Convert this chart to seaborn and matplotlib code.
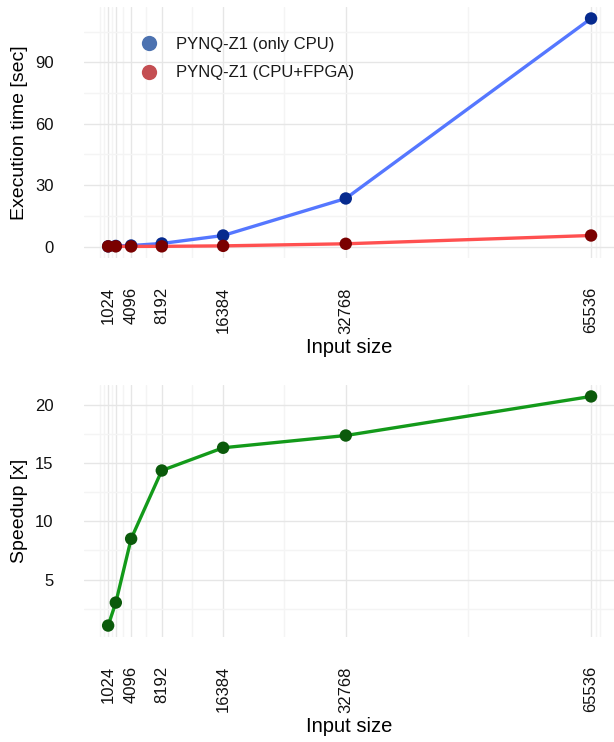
import numpy as np
import pandas as pd
import matplotlib
matplotlib.use("Agg")
import matplotlib.pyplot as plt
from matplotlib.lines import Line2D
import seaborn as sns

# ---- data ----
input_size = [1024, 2048, 4096, 8192, 16384, 32768, 65536]
cpu_time = [0.1, 0.3, 0.5, 1.5, 5.4, 23.5, 111.5]
fpga_time = [0.09, 0.1, 0.06, 0.104, 0.33, 1.35, 5.4]
speedup = [1.06, 3.03, 8.5, 14.35, 16.3, 17.35, 20.7]
tick_labels = ["1024", "", "4096", "8192", "16384", "32768", "65536"]
series_names = ["PYNQ-Z1 (only CPU)", "PYNQ-Z1 (CPU+FPGA)"]

sns.set_theme(style="white")
plt.rcParams["font.family"] = ["Liberation Sans", "DejaVu Sans"]

fig = plt.figure(figsize=(6.14, 7.42), dpi=100)
W, H = 614, 742
def axrect(l, t, r, b):
    return [l / W, 1 - b / H, (r - l) / W, (b - t) / H]

ax1 = fig.add_axes(axrect(84, 7, 614, 258))
ax2 = fig.add_axes(axrect(84, 385, 614, 637))

df = pd.DataFrame({
    "size": input_size * 2,
    "time": cpu_time + fpga_time,
    "series": [series_names[0]] * 7 + [series_names[1]] * 7,
})
line_cols = {series_names[0]: "#5577ff", series_names[1]: "#ff5050"}
pt_cols = {series_names[0]: "#062a8e", series_names[1]: "#7a0000"}

sns.lineplot(data=df, x="size", y="time", hue="series", palette=line_cols,
             linewidth=2.4, legend=False, ax=ax1, zorder=3)
sns.scatterplot(data=df, x="size", y="time", hue="series", palette=pt_cols,
                s=80, edgecolor="none", legend=False, ax=ax1, zorder=4)

sd = pd.DataFrame({"size": input_size, "speedup": speedup})
sns.lineplot(data=sd, x="size", y="speedup", color="#139a1a", linewidth=2.4, ax=ax2, zorder=3)
sns.scatterplot(data=sd, x="size", y="speedup", color="#0b5a0b", s=80,
                edgecolor="none", ax=ax2, zorder=4)

xminor = [0, 512, 1536, 3072, 6144, 12288, 24576, 49152, 66200, 66750]

def style(ax, ymajor, yminor, ylim, ylabel):
    ax.set_xlim(-2201, 68600)
    ax.set_ylim(*ylim)
    ax.set_xticks(input_size, minor=False)
    ax.set_xticklabels(tick_labels, rotation=90, fontsize=12, color="#111111")
    ax.set_xticks(xminor, minor=True)
    ax.set_yticks(ymajor)
    ax.set_yticklabels([str(v) for v in ymajor], fontsize=12, color="#111111")
    ax.set_yticks(yminor, minor=True)
    ax.grid(True, which="major", color="#e6e6e6", linewidth=1.0, zorder=0)
    ax.grid(True, which="minor", color="#f4f4f4", linewidth=1.0, zorder=0)
    ax.set_axisbelow(True)
    ax.tick_params(axis="both", which="both", length=0)
    ax.tick_params(axis="x", pad=21)
    ax.tick_params(axis="y", pad=22)
    for s in ax.spines.values():
        s.set_visible(False)
    ax.set_xlabel("Input size", fontsize=14.5, color="black", labelpad=3)
    ax.set_ylabel(ylabel, fontsize=14, color="black", labelpad=5)

style(ax1, [0, 30, 60, 90], [15, 45, 75, 105], (-5.6, 117.1), "Execution time [sec]")
style(ax2, [5, 10, 15, 20], [2.5, 7.5, 12.5, 17.5], (0.08, 21.68), "Speedup [x]")

handles = [
    Line2D([], [], marker="o", linestyle="none", markersize=11,
           markerfacecolor="#4c72b0", markeredgecolor="none"),
    Line2D([], [], marker="o", linestyle="none", markersize=11,
           markerfacecolor="#c44e52", markeredgecolor="none"),
]
leg = ax1.legend(handles, series_names, loc="upper left", bbox_to_anchor=(0.1075, 0.88),
                 frameon=False, fontsize=12, handlelength=1.0, handletextpad=1.1,
                 labelspacing=0.8, borderaxespad=0, borderpad=0)
for t in leg.get_texts():
    t.set_color("#1a1a1a")

fig.savefig("out.png", dpi=100)
